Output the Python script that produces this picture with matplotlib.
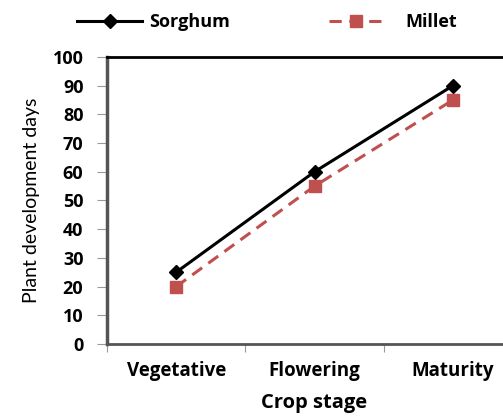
import matplotlib
matplotlib.use("Agg")
import matplotlib.pyplot as plt
from matplotlib.font_manager import FontProperties

stages = ["Vegetative", "Flowering", "Maturity"]
sorghum = [25, 60, 90]
millet = [20, 55, 85]
yticks = [0, 10, 20, 30, 40, 50, 60, 70, 80, 90, 100]

plt.rcParams['font.family'] = ['Open Sans', 'DejaVu Sans']

fig = plt.figure(figsize=(5.03, 4.17), dpi=100)
ax = fig.add_axes([107/503, 1-344/417, (522-107)/503, (344-57)/417])

x = [i + 0.5 for i in range(len(stages))]
l1, = ax.plot(x, sorghum, color='black', lw=2.2, marker='D', ms=7, label='Sorghum')
l2, = ax.plot(x, millet, color='#C0504D', lw=2.2, ls=(0, (4, 2.5)), marker='s', ms=8,
              label='Millet')

ax.set_xlim(0, 3)
ax.set_ylim(0, 100)
ax.set_yticks(yticks)
ax.set_yticklabels([str(v) for v in yticks], fontsize=13, fontweight='bold')
ax.set_xticks([0, 1, 2, 3])
ax.set_xticklabels([])
ax.set_xticks(x, minor=True)
ax.set_xticklabels(stages, minor=True, fontsize=13.5, fontweight='bold')
ax.tick_params(axis='x', which='minor', length=0, pad=12)
ax.tick_params(axis='x', which='major', length=6, color='#999999', direction='out')
ax.tick_params(axis='y', length=7, color='#999999', direction='out', pad=10)

ax.spines['right'].set_visible(False)
ax.spines['top'].set_linewidth(2)
ax.spines['top'].set_color('black')
ax.spines['left'].set_linewidth(2.5)
ax.spines['left'].set_color('#555555')
ax.spines['bottom'].set_linewidth(2)
ax.spines['bottom'].set_color('#555555')

ax.set_ylabel('Plant development days',
              fontproperties=FontProperties(family=['Lato', 'DejaVu Sans'], size=14),
              labelpad=9)
ax.set_xlabel('Crop stage', fontsize=14.5, fontweight='bold', labelpad=9)

prop = {'size': 13, 'weight': 'bold'}
fig.legend(handles=[l1], loc='center left', bbox_to_anchor=(61/503, 1-22/417),
           frameon=False, prop=prop, handlelength=3.6, handletextpad=0.4)
fig.legend(handles=[l2], loc='center left', bbox_to_anchor=(313/503, 1-22/417),
           frameon=False, prop=prop, handlelength=3.0, handletextpad=1.2)

fig.savefig('out.png', dpi=100)
